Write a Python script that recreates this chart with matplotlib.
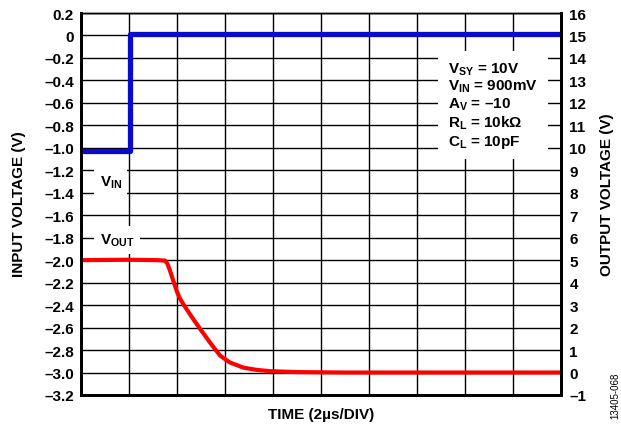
# -*- coding: utf-8 -*-
# Large signal step response: input and output voltage vs time
import numpy as np
from matplotlib import pyplot as plt

plt.rcParams['font.family'] = ['Liberation Sans', 'DejaVu Sans']
plt.rcParams['font.weight'] = 'bold'
plt.rcParams['mathtext.fontset'] = 'custom'
plt.rcParams['mathtext.rm'] = 'Liberation Sans:bold'
plt.rcParams['mathtext.it'] = 'Liberation Sans:bold'
plt.rcParams['mathtext.bf'] = 'Liberation Sans:bold'
plt.rcParams['mathtext.default'] = 'regular'

# Data (time in divisions of 2us)
t_in = [0.0, 1.02, 1.02, 10.0]
v_in = [-1.03, -1.03, 0.01, 0.01]

t_out = [0.0, 1.0, 1.6, 1.75, 1.8, 1.86, 1.92, 2.0, 2.06, 2.13, 2.3,
         2.48, 2.7, 2.9, 3.1, 3.38, 3.65, 3.94, 4.5, 5.5, 10.0]
v_out = [5.0, 5.02, 5.0, 4.98, 4.85, 4.5, 4.1, 3.6, 3.3, 3.05, 2.5,
         1.95, 1.3, 0.75, 0.45, 0.22, 0.12, 0.06, 0.02, 0.0, 0.0]

in_ticks = np.round(np.arange(0.2, -3.21, -0.2), 1)
out_ticks = np.arange(-1, 17, 1)

def fmt(v, nd):
    if abs(v) < 1e-9:
        return "0"
    s = "{0:.{1}f}".format(abs(v), nd)
    return ("\u2013" + s) if v < 0 else s

fig = plt.figure(figsize=(6.21, 4.27), dpi=100)
ax = fig.add_axes([0.1304, 0.0726, 0.773, 0.8946])
ax2 = ax.twinx()

ax.set_xlim(0, 10)
ax.set_ylim(-3.2, 0.2)
ax2.set_ylim(-1, 16)

ax.set_xticks(np.arange(0, 11, 1))
ax.set_xticklabels([])
ax.set_yticks(in_ticks)
ax.set_yticklabels([fmt(v, 1) for v in in_ticks])
ax2.set_yticks(out_ticks)
ax2.set_yticklabels([fmt(v, 0) for v in out_ticks])

ax.grid(True, color='black', linewidth=1.0)
ax.tick_params(axis='both', length=0, labelsize=11, pad=5)
ax2.tick_params(axis='y', length=0, labelsize=11, pad=6)

for a in (ax, ax2):
    a.spines['top'].set_linewidth(1.0)
    for s in ('left', 'bottom', 'right'):
        a.spines[s].set_linewidth(2.0)

ax2.plot(t_out, v_out, color='#ff0000', linewidth=3.0, solid_joinstyle='round')
ax.plot(t_in, v_in, color='#0a0acc', linewidth=3.8)

# Axis titles placed in figure pixels
fig.text(321 / 621, 1 - 415 / 427, "TIME (2\u00b5s/DIV)", fontsize=11,
         ha='center', va='center')
fig.text(19 / 621, 1 - 204 / 427, "INPUT VOLTAGE (V)", fontsize=11,
         rotation=90, ha='center', va='center')
fig.text(607 / 621, 1 - 195 / 427, "OUTPUT VOLTAGE (V)", fontsize=11,
         rotation=90, ha='center', va='center')

# Labels on white patches covering the grid
box = dict(facecolor='white', edgecolor='none', pad=4)
ax.text(0.62, -1.3, "V$_{IN}$", fontsize=11, ha='center', va='center', bbox=box)
ax.text(0.75, -1.82, "V$_{OUT}$", fontsize=11, ha='center', va='center', bbox=box)

cond = ("V$_{SY}$ = 10V\nV$_{IN}$ = 900mV\nA$_{V}$ = \u201310\n"
        "R$_{L}$ = 10k\u03a9\nC$_{L}$ = 10pF")
ax.text(7.65, -0.22, cond, fontsize=11, ha='left', va='top', linespacing=1.12,
        bbox=dict(facecolor='white', edgecolor='none', pad=7))

fig.text(615 / 621, 1 - 396 / 427, "13405-068", rotation=90, fontsize=7,
         fontweight='normal', ha='center', va='center')

fig.savefig("out.png", dpi=100)
